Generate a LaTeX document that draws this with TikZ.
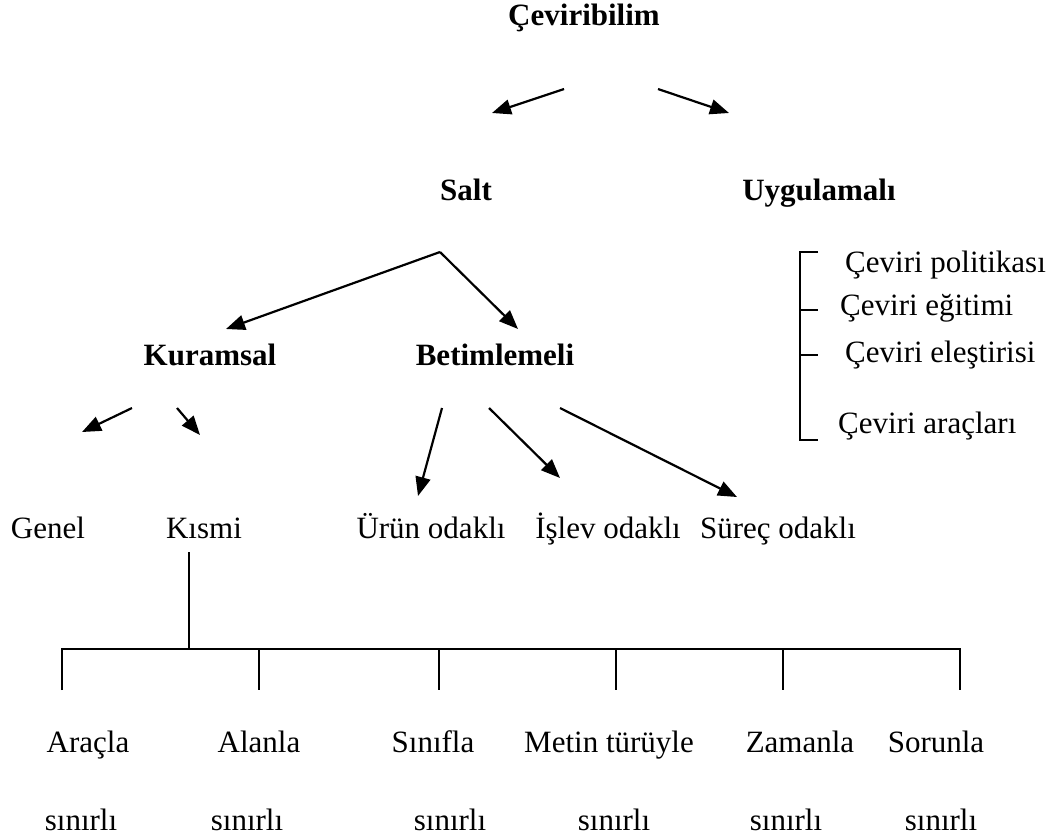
\documentclass[tikz,border=0pt]{standalone}
\usepackage{fontspec}
\setmainfont{Liberation Serif}
\usetikzlibrary{arrows.meta}
\tikzset {
  >={Triangle[length=19pt,width=15pt]},
  every node/.style={font=\fontsize{31}{36}\selectfont,inner sep=0pt},
  head/.style={font=\fontsize{31}{36}\selectfont\bfseries,anchor=base},
  leaf/.style={anchor=base},
  item/.style={anchor=base west},
  arr/.style={->,line width=2.2pt},
  rule/.style={line width=1.6pt},
}

\begin{document}
\begin{tikzpicture}[x=1pt,y=-1pt]
          \useasboundingbox (0,0) rectangle (1057,839);

          \node[head] (cev) at (584,25) {Çeviribilim};
          \node[head] (salt) at (466,200) {Salt};
          \node[head] (uyg) at (819,200) {Uygulamalı};
          \node[head] (kur) at (210,365) {Kuramsal};
          \node[head] (bet) at (495,365) {Betimlemeli};

          \coordinate (c1) at (564,89);
          \coordinate (c2) at (658,89);
          \coordinate (s0) at (440,252);
          \coordinate (k1) at (132,408);
          \coordinate (k2) at (177,408);
          \coordinate (b1) at (442,408);
          \coordinate (b2) at (489,408);
          \coordinate (b3) at (560,408);
          \coordinate (t1) at (492,113);
          \coordinate (t2) at (729,113);
          \coordinate (t3) at (226,329);
          \coordinate (t4) at (518,329);
          \coordinate (t5) at (82,432);
          \coordinate (t6) at (200,435);
          \coordinate (t7) at (418,496);
          \coordinate (t8) at (560,478);
          \coordinate (t9) at (737,497);

          \draw[arr] (c1) -- (t1);
          \draw[arr] (c2) -- (t2);
          \draw[arr] (s0) -- (t3);
          \draw[arr] (s0) -- (t4);
          \draw[arr] (k1) -- (t5);
          \draw[arr] (k2) -- (t6);
          \draw[arr] (b1) -- (t7);
          \draw[arr] (b2) -- (t8);
          \draw[arr] (b3) -- (t9);

          \node[item] (pol) at (845,272) {Çeviri politikası};
          \node[item] (egi) at (840,315) {Çeviri eğitimi};
          \node[item] (ele) at (845,362) {Çeviri eleştirisi};
          \node[item] (arc) at (838,433) {Çeviri araçları};
          \draw[rule] (818,252) -- (800,252) -- (800,440) -- (818,440);
          \draw[rule] (800,310) -- (818,310);
          \draw[rule] (800,355) -- (818,355);

          \node[leaf] (gen) at (48,538) {Genel};
          \node[leaf] (ksm) at (204,538) {Kısmi};
          \node[leaf] (urn) at (431,538) {Ürün odaklı};
          \node[leaf] (isl) at (608,538) {İşlev odaklı};
          \node[leaf] (sur) at (778,538) {Süreç odaklı};

          \coordinate (ks) at (189,552);
          \coordinate (kb) at (189,649);
          \draw[rule] (ks) -- (kb);
          \draw[rule] (62,690) -- (62,649) -- (960,649) -- (960,690);
          \foreach \x in {259,439,616,783}
            \draw[rule] (\x,649) -- (\x,690);

          \node[leaf] (arl) at (88,752) {Araçla};
          \node[leaf] (anl) at (259,752) {Alanla};
          \node[leaf] (snf) at (433,752) {Sınıfla};
          \node[leaf] (mtn) at (609,752) {Metin türüyle};
          \node[leaf] (zmn) at (800,752) {Zamanla};
          \node[leaf] (srn) at (936,752) {Sorunla};

          \node[leaf] (s1) at (81,830) {sınırlı};
          \node[leaf] (s2) at (247,830) {sınırlı};
          \node[leaf] (s3) at (450,830) {sınırlı};
          \node[leaf] (s4) at (614,830) {sınırlı};
          \node[leaf] (s5) at (786,830) {sınırlı};
          \node[leaf] (s6) at (941,830) {sınırlı};
        \end{tikzpicture}
\end{document}
